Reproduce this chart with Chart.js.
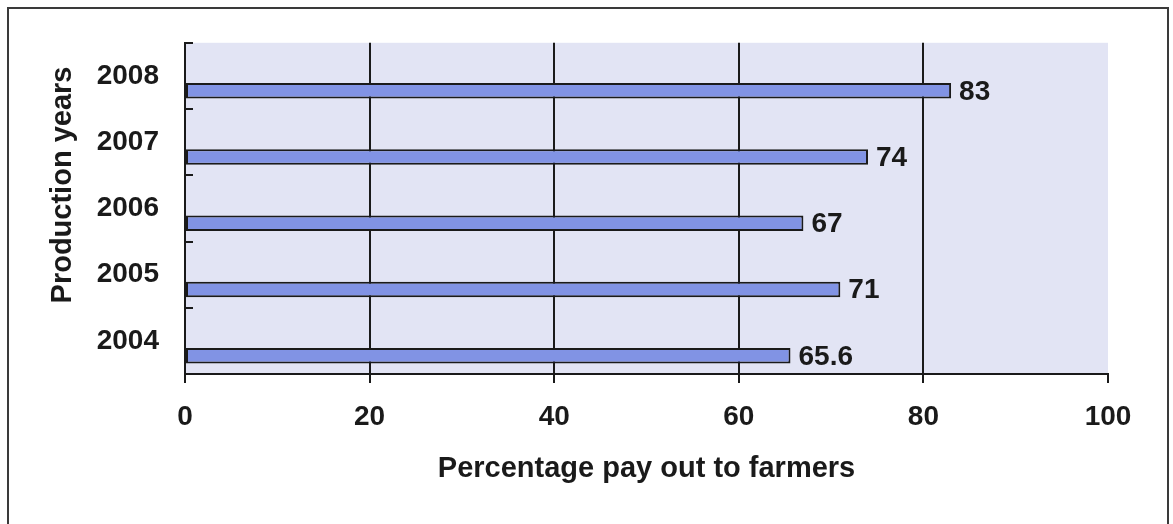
<!DOCTYPE html>
<html>
<head>
<meta charset="utf-8">
<title>Percentage pay out to farmers</title>
<script src="https://cdn.jsdelivr.net/npm/chart.js@4.4.1/dist/chart.umd.min.js"></script>
<style>
  html, body { margin: 0; padding: 0; background: #ffffff; }
  #wrap { position: relative; width: 1173px; height: 524px; overflow: hidden; }
  #wrap canvas { position: absolute; left: 0; top: 0; }
  #frame {
    position: absolute; left: 7px; top: 7px; width: 1162px; height: 560px;
    border: 2px solid #3a3a3a; box-sizing: border-box; pointer-events: none;
  }
</style>
</head>
<body>
<div id="wrap">
  <canvas id="chart" width="1173" height="524"></canvas>
  <div id="frame"></div>
</div>
<script>
// Production years, top to bottom
const years = ['2008', '2007', '2006', '2005', '2004'];
// Percentage paid out to farmers per year
const payout = [83, 74, 67, 71, 65.6];
// Empty companion series: keeps each bar in the lower half of its band
const spacer = [null, null, null, null, null];
// Value-axis tick labels
const xTicks = [0, 20, 40, 60, 80, 100];
const xTitle = 'Percentage pay out to farmers';
const yTitle = 'Production years';

const INK = '#1a1a1a';
const FONT = '"Liberation Sans", Arial, sans-serif';

// Lavender fill behind the plotting area
const plotBackground = {
  id: 'plotBackground',
  beforeDraw(chart) {
    const { ctx, chartArea: a } = chart;
    ctx.save();
    ctx.fillStyle = '#e2e4f4';
    ctx.fillRect(a.left, a.top, a.right - a.left, a.bottom - a.top);
    ctx.restore();
  }
};

// Short tick marks on the inner side of the category axis, at band boundaries
const categoryTicks = {
  id: 'categoryTicks',
  afterDraw(chart) {
    const { ctx } = chart;
    const y = chart.scales.y;
    const n = y.getLabels().length;
    const step = (y.bottom - y.top) / n;
    ctx.save();
    ctx.strokeStyle = INK;
    ctx.lineWidth = 2;
    ctx.beginPath();
    for (let i = 0; i < n; i++) {
      const py = Math.round(y.top + i * step);
      ctx.moveTo(y.right, py);
      ctx.lineTo(y.right + 8, py);
    }
    ctx.stroke();
    ctx.restore();
  }
};

// Value printed at the end of every bar
const valueLabels = {
  id: 'valueLabels',
  afterDatasetsDraw(chart) {
    const { ctx } = chart;
    const meta = chart.getDatasetMeta(1);
    ctx.save();
    ctx.fillStyle = INK;
    ctx.font = 'bold 28px ' + FONT;
    ctx.textAlign = 'left';
    ctx.textBaseline = 'middle';
    meta.data.forEach((bar, i) => {
      const v = chart.data.datasets[1].data[i];
      ctx.fillText(String(v), bar.x + 8, bar.y + 1);
    });
    ctx.restore();
  }
};

// Rotated title of the category axis
const categoryTitle = {
  id: 'categoryTitle',
  afterDraw(chart) {
    const { ctx } = chart;
    ctx.save();
    ctx.translate(63, 185);
    ctx.rotate(-Math.PI / 2);
    ctx.fillStyle = INK;
    ctx.font = 'bold 29px ' + FONT;
    ctx.textAlign = 'center';
    ctx.textBaseline = 'middle';
    ctx.fillText(yTitle, 0, 0);
    ctx.restore();
  }
};

new Chart(document.getElementById('chart'), {
  type: 'bar',
  data: {
    labels: years,
    datasets: [
      { label: 'spacer', data: spacer, backgroundColor: 'rgba(0,0,0,0)', borderWidth: 0 },
      {
        label: 'Pay out',
        data: payout,
        backgroundColor: '#8193e4',
        borderColor: INK,
        borderWidth: 2,
        borderSkipped: false
      }
    ]
  },
  options: {
    indexAxis: 'y',
    responsive: false,
    devicePixelRatio: 1,
    animation: false,
    categoryPercentage: 0.9,
    barPercentage: 0.52,
    layout: { padding: { top: 40, right: 65, left: 0, bottom: 0 } },
    plugins: {
      legend: { display: false },
      tooltip: { enabled: false },
      title: { display: false }
    },
    scales: {
      x: {
        type: 'linear',
        position: 'bottom',
        min: 0,
        max: 100,
        afterBuildTicks(scale) { scale.ticks = xTicks.map(v => ({ value: v })); },
        afterFit(scale) { scale.height = 150; },
        grid: {
          display: true,
          drawOnChartArea: true,
          drawTicks: true,
          tickLength: 9,
          lineWidth: 2,
          tickWidth: 2,
          tickColor: INK,
          color: (c) => (c.tick && c.tick.value === 100) ? 'rgba(0,0,0,0)' : INK
        },
        border: { display: true, color: INK, width: 2 },
        ticks: {
          color: INK,
          padding: 17,
          maxRotation: 0,
          font: { family: FONT, size: 28, weight: 'bold' }
        },
        title: {
          display: true,
          text: xTitle,
          color: INK,
          font: { family: FONT, size: 29, weight: 'bold' },
          padding: { top: 0, bottom: 38 }
        }
      },
      y: {
        type: 'category',
        position: 'left',
        offset: true,
        afterFit(scale) { scale.width = 185; },
        grid: { display: false, drawTicks: false },
        border: { display: true, color: INK, width: 2 },
        ticks: {
          color: INK,
          padding: 26,
          font: { family: FONT, size: 28, weight: 'bold' }
        }
      }
    }
  },
  plugins: [plotBackground, categoryTicks, valueLabels, categoryTitle]
});
</script>
</body>
</html>
